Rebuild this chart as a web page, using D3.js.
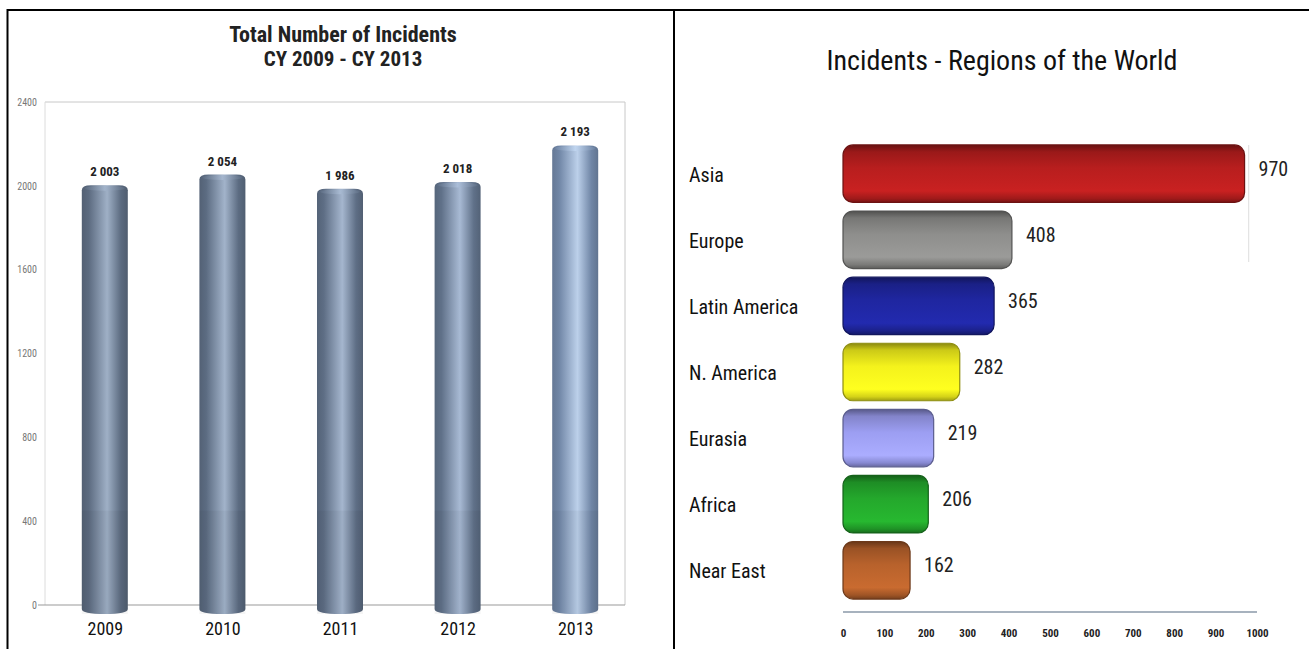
<!DOCTYPE html>
<html><head><meta charset="utf-8">
<script src="https://cdn.jsdelivr.net/npm/d3@7"></script>
<style>
html,body{margin:0;padding:0;background:#fff;}
svg{display:block;}
</style></head>
<body>
<svg id="c" width="1309" height="649"></svg>
<script>
// ---- Data ----
const years = ["2009", "2010", "2011", "2012", "2013"];
const totals = [2003, 2054, 1986, 2018, 2193];
const totalLabels = ["2 003", "2 054", "1 986", "2 018", "2 193"];
const yTicks = [0, 400, 800, 1200, 1600, 2000, 2400];

const regions = ["Asia", "Europe", "Latin America", "N. America", "Eurasia", "Africa", "Near East"];
const regionValues = [970, 408, 365, 282, 219, 206, 162];
const xTicks = [0, 100, 200, 300, 400, 500, 600, 700, 800, 900, 1000];

// ---- Styles ----
const regionColors = ["#b81e1e", "#8e8e8c", "#1f26a0", "#f4f21c", "#9c9ef2", "#24a82c", "#b8622c"];
const cylColors = [["#5c6b80", "#9fb0c6"], ["#5c6c82", "#a2b3ca"], ["#5e6e85", "#a5b6ce"], ["#607189", "#a8bad4"], ["#7086a6", "#bcd0ea"]];
const condensed = "'Liberation Sans Narrow','Arial Narrow','Roboto Condensed',sans-serif";

const svg = d3.select("#c");
const defs = svg.append("defs");

// frame
svg.append("rect").attr("x", 7.5).attr("y", 10).attr("width", 1310).attr("height", 650)
  .attr("fill", "none").attr("stroke", "#000").attr("stroke-width", 2);
svg.append("line").attr("x1", 674).attr("x2", 674).attr("y1", 10).attr("y2", 649)
  .attr("stroke", "#000").attr("stroke-width", 2);

// ===== LEFT CHART =====
const L = svg.append("g");
const y = d3.scaleLinear().domain([0, 2400]).range([605, 102]);
const x = d3.scalePoint().domain(years).range([46, 634]).padding(0.5);
const bw = 46;

// plot frame
L.append("line").attr("x1", 45).attr("x2", 625).attr("y1", y(2400)).attr("y2", y(2400)).attr("stroke", "#c8c8c8");
L.append("line").attr("x1", 625).attr("x2", 625).attr("y1", y(2400)).attr("y2", y(0)).attr("stroke", "#c8c8c8");
L.append("line").attr("x1", 45).attr("x2", 45).attr("y1", y(2400)).attr("y2", y(0)).attr("stroke", "#dcdcdc");

// y axis labels
const yAxis = d3.axisLeft(y).tickValues(yTicks).tickSize(0).tickPadding(0).tickFormat(d3.format("d"));
const ya = L.append("g").attr("transform", "translate(37,0)").call(yAxis);
ya.select(".domain").remove();
ya.selectAll("text").attr("font-family", condensed).attr("font-size", 10).attr("fill", "#777");

// baseline
L.append("line").attr("x1", 38).attr("x2", 625).attr("y1", y(0)).attr("y2", y(0)).attr("stroke", "#999").attr("stroke-width", 1.2);

// cylinder gradients
cylColors.forEach((c, i) => {
  const g = defs.append("linearGradient").attr("id", "cyl" + i).attr("x1", 0).attr("x2", 1).attr("y1", 0).attr("y2", 0);
  g.append("stop").attr("offset", "0%").attr("stop-color", d3.color(c[0]).darker(0.3));
  g.append("stop").attr("offset", "15%").attr("stop-color", c[0]);
  g.append("stop").attr("offset", "55%").attr("stop-color", c[1]);
  g.append("stop").attr("offset", "85%").attr("stop-color", c[0]);
  g.append("stop").attr("offset", "100%").attr("stop-color", d3.color(c[0]).darker(0.4));
  const t = defs.append("linearGradient").attr("id", "cap" + i).attr("x1", 0).attr("x2", 1).attr("y1", 0).attr("y2", 0);
  t.append("stop").attr("offset", "0%").attr("stop-color", c[0]);
  t.append("stop").attr("offset", "50%").attr("stop-color", d3.color(c[1]).brighter(0.1));
  t.append("stop").attr("offset", "100%").attr("stop-color", c[0]);
});

const bars = L.selectAll("g.bar").data(years).join("g").attr("class", "bar");
bars.append("path")
  .attr("d", (d, i) => {
    const x0 = x(d) - bw / 2, x1 = x(d) + bw / 2, top = y(totals[i]), bot = y(0) + 4;
    const r = 5;
    return `M${x0},${top + r} Q${x0},${top} ${x0 + r + 4},${top} L${x1 - r - 4},${top} Q${x1},${top} ${x1},${top + r} L${x1},${bot} Q${x1},${bot + 5} ${x(d)},${bot + 5} Q${x0},${bot + 5} ${x0},${bot} Z`;
  })
  .attr("fill", (d, i) => `url(#cyl${i})`);
bars.append("rect")
  .attr("x", d => x(d) - bw / 2).attr("width", bw)
  .attr("y", y(450)).attr("height", y(0) + 9 - y(450))
  .attr("fill", "#000").attr("opacity", 0.04);
bars.append("ellipse")
  .attr("cx", d => x(d)).attr("cy", (d, i) => y(totals[i]) + 3)
  .attr("rx", bw / 2 - 3).attr("ry", 2.5)
  .attr("fill", (d, i) => `url(#cap${i})`).attr("opacity", 0.8);

// value labels
L.selectAll("text.val").data(years).join("text").attr("class", "val")
  .attr("x", d => x(d)).attr("y", (d, i) => y(totals[i]) - 9)
  .attr("text-anchor", "middle").attr("font-family", condensed).attr("font-weight", "bold")
  .attr("font-size", 13).attr("fill", "#222")
  .text((d, i) => totalLabels[i]);

// x labels
const xAxis = d3.axisBottom(x).tickSize(0).tickPadding(0);
const xa = L.append("g").attr("transform", `translate(0,${y(0) + 17})`).call(xAxis);
xa.select(".domain").remove();
xa.selectAll("text").attr("font-family", condensed).attr("font-size", 18).attr("fill", "#111").attr("dy", "0.7em");

// title
L.append("text").attr("x", 343).attr("y", 42).attr("text-anchor", "middle")
  .attr("font-family", condensed).attr("font-weight", "bold").attr("font-size", 22).attr("fill", "#222")
  .text("Total Number of Incidents");
L.append("text").attr("x", 343).attr("y", 66).attr("text-anchor", "middle")
  .attr("font-family", condensed).attr("font-weight", "bold").attr("font-size", 21).attr("fill", "#222")
  .text("CY 2009 - CY 2013");

// ===== RIGHT CHART =====
const R = svg.append("g");
const xr = d3.scaleLinear().domain([0, 1000]).range([843, 1257]);
const yr = d3.scaleBand().domain(regions).range([141, 603]).paddingInner(0.13).paddingOuter(0.06);

R.append("text").attr("x", 1002).attr("y", 70).attr("text-anchor", "middle")
  .attr("font-family", condensed).attr("font-size", 28).attr("fill", "#111")
  .text("Incidents - Regions of the World");

// faint gridline near right
R.append("line").attr("x1", xr(980)).attr("x2", xr(980)).attr("y1", 145).attr("y2", 262)
  .attr("stroke", "#ddd");

regionColors.forEach((c, i) => {
  const g = defs.append("linearGradient").attr("id", "hb" + i).attr("x1", 0).attr("x2", 0).attr("y1", 0).attr("y2", 1);
  g.append("stop").attr("offset", "0%").attr("stop-color", d3.color(c).darker(1.6));
  g.append("stop").attr("offset", "12%").attr("stop-color", d3.color(c).darker(0.5));
  g.append("stop").attr("offset", "40%").attr("stop-color", c);
  g.append("stop").attr("offset", "80%").attr("stop-color", d3.color(c).brighter(0.25));
  g.append("stop").attr("offset", "93%").attr("stop-color", d3.color(c).darker(0.4));
  g.append("stop").attr("offset", "100%").attr("stop-color", d3.color(c).darker(1.2));
});

R.selectAll("rect.hb").data(regions).join("rect").attr("class", "hb")
  .attr("x", xr(0)).attr("y", d => yr(d))
  .attr("width", (d, i) => xr(regionValues[i]) - xr(0)).attr("height", yr.bandwidth())
  .attr("rx", 10).attr("ry", 10)
  .attr("fill", (d, i) => `url(#hb${i})`)
  .attr("stroke", (d, i) => d3.color(regionColors[i]).darker(1.5)).attr("stroke-width", 1.2);

// category labels
R.selectAll("text.cat").data(regions).join("text").attr("class", "cat")
  .attr("x", 689).attr("y", d => yr(d) + yr.bandwidth() / 2 + 8)
  .attr("font-family", condensed).attr("font-size", 20).attr("fill", "#111")
  .text(d => d);

// value labels
R.selectAll("text.rv").data(regions).join("text").attr("class", "rv")
  .attr("x", (d, i) => xr(regionValues[i]) + 14).attr("y", d => yr(d) + yr.bandwidth() / 2 + 2)
  .attr("font-family", condensed).attr("font-size", 20).attr("fill", "#222")
  .text((d, i) => regionValues[i]);

// x axis
R.append("line").attr("x1", xr(0)).attr("x2", xr(1000)).attr("y1", 612).attr("y2", 612)
  .attr("stroke", "#8a98a8").attr("stroke-width", 1.5);
const xra = d3.axisBottom(xr).tickValues(xTicks).tickSize(0).tickPadding(0).tickFormat(d3.format("d"));
const xrg = R.append("g").attr("transform", "translate(0,629)").call(xra);
xrg.select(".domain").remove();
xrg.selectAll("text").attr("font-family", condensed).attr("font-size", 11).attr("font-weight", "bold").attr("fill", "#222").attr("dy", "0.7em");
</script>
</body></html>
